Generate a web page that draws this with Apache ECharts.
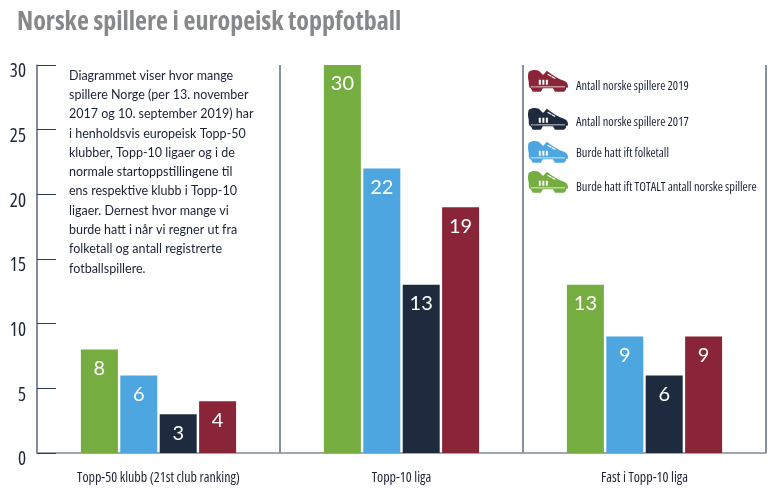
<!DOCTYPE html>
<html><head><meta charset="utf-8">
<style>html,body{margin:0;padding:0;background:#fff}#c{width:768px;height:488px}</style>
<script src="https://cdn.jsdelivr.net/npm/echarts@6/dist/echarts.min.js"></script></head>
<body><div id="c"></div>
<script>
const categories = ['Topp-50 klubb (21st club ranking)', 'Topp-10 liga', 'Fast i Topp-10 liga'];
const seriesNames = ['Burde hatt ift TOTALT antall norske spillere', 'Burde hatt ift folketall', 'Antall norske spillere 2017', 'Antall norske spillere 2019'];
const burdeTotalt = [8, 30, 13];
const burdeFolketall = [6, 22, 9];
const antall2017 = [3, 13, 6];
const antall2019 = [4, 19, 9];
const colors = ['#76AD41', '#4DA6DF', '#1E2B3F', '#8A2539'];
const legendOrder = [3, 2, 1, 0];
const legendTops = [70, 108, 141, 171];
const legendTextShift = [12, 8, 4, 12];
const noteLines = ['Diagrammet viser hvor mange','spillere Norge (per 13. november','2017 og 10. september 2019) har','i henholdsvis europeisk Topp-50','klubber, Topp-10 ligaer og i de','normale startoppstillingene til','ens respektive klubb i Topp-10','ligaer. Dernest hvor mange vi','burde hatt i når vi regner ut fra','folketall og antall registrerte','fotballspillere.'];
const narrow = '"Open Sans"';
const shoe = 'path://M1 2 C4 0 8 0 11 1 L15 5 C16 5 17 3 19 1 C24 5 30 9 36 11 C39 12 40 14 40 17 C40 18 39 18 38 18 L38 20 L36 22 L27 22 L25 18.5 L15 18.5 L13 22 L5 22 L3 18.5 C1 18 1 15 1 12 C0 8 0 5 1 2 Z M11 10 L11 15 L13 15 L13 10 Z M14.5 10 L14.5 15 L16.5 15 L16.5 10 Z M18 10 L18 15 L20 15 L20 10 Z M20 4 L19.4 5 L23 7 L23.6 6 Z M24 6.4 L23.4 7.4 L27 9.2 L27.6 8.2 Z M3 16.8 L3 17.5 L37 17.5 L37 16.8 Z';
const values = [burdeTotalt, burdeFolketall, antall2017, antall2019];
const flagSpots = [83, 121];
const chart = echarts.init(document.getElementById('c'), null, {renderer: 'canvas'});
const flags = flagSpots.map(y => ({type: 'group', left: 531, top: y - 3.5, children: [
  {type: 'circle', shape: {cx: 3.5, cy: 3.5, r: 3.5}, style: {fill: '#D9434E'}},
  {type: 'rect', shape: {x: 0, y: 2.5, width: 7, height: 2}, style: {fill: '#fff'}},
  {type: 'rect', shape: {x: 2, y: 0.2, width: 2, height: 6.6}, style: {fill: '#fff'}},
  {type: 'rect', shape: {x: 0, y: 3, width: 7, height: 1}, style: {fill: '#2C4F8F'}},
  {type: 'rect', shape: {x: 2.5, y: 0.2, width: 1, height: 6.6}, style: {fill: '#2C4F8F'}}
]}));
chart.setOption({
  animation: false,
  backgroundColor: '#fff',
  title: {text: 'Norske spillere i europeisk toppfotball', left: 12, top: 5,
    textStyle: {fontFamily: narrow, fontWeight: 'bold ultra-condensed', fontSize: 26, color: '#87888A'}},
  grid: {left: 37, right: 2, top: 65, bottom: 35},
  legend: legendOrder.map((s, i) => ({
    data: [{name: seriesNames[s], icon: shoe}],
    left: 528, top: legendTops[i], orient: 'vertical', itemWidth: 40, itemHeight: 22, itemGap: 0, padding: 0,
    selectedMode: false,
    formatter: name => '{t|' + name + '}',
    textStyle: {rich: {t: {fontFamily: narrow, fontWeight: 'ultra-condensed', fontSize: 12.4, color: '#1A2233', padding: [legendTextShift[i], 0, 0, 3]}}}
  })),
  xAxis: {type: 'category', data: categories,
    axisLine: {lineStyle: {color: '#7F8C9C', width: 1.5}},
    axisTick: {show: false},
    axisLabel: {interval: 0, fontFamily: narrow, fontWeight: 'ultra-condensed', fontSize: 14, color: '#1A2233', margin: 18},
    splitLine: {show: true, interval: 0, lineStyle: {color: '#5C6C84', width: 1.5}}},
  yAxis: {type: 'value', min: 0, max: 30, interval: 5,
    axisLine: {show: true, lineStyle: {color: '#7F8C9C', width: 1.5}},
    axisTick: {show: true, inside: true, length: 19, lineStyle: {color: '#2A3A52', width: 1}},
    axisLabel: {margin: 11, formatter: '{v|{value}}',
      rich: {v: {fontFamily: narrow, fontWeight: 'ultra-condensed', fontSize: 19, color: '#1A2233', padding: [14, 0, 0, 0]}}},
    splitLine: {show: false}},
  series: values.map((d, i) => ({
    type: 'bar', name: seriesNames[i], data: d, barWidth: 37, barGap: '6.5%',
    itemStyle: {color: colors[i]},
    label: {show: true, position: 'insideTop', distance: 9, color: '#fff', fontFamily: '"Lato","Open Sans",sans-serif', fontSize: 20}
  })),
  graphic: [{type: 'text', left: 69, top: 66, style: {
    text: noteLines.join('\n'), fill: '#1A2233', lineHeight: 19.3,
    font: '12.5px "Lato","Open Sans",sans-serif'}}].concat(flags)
});
</script></body></html>
